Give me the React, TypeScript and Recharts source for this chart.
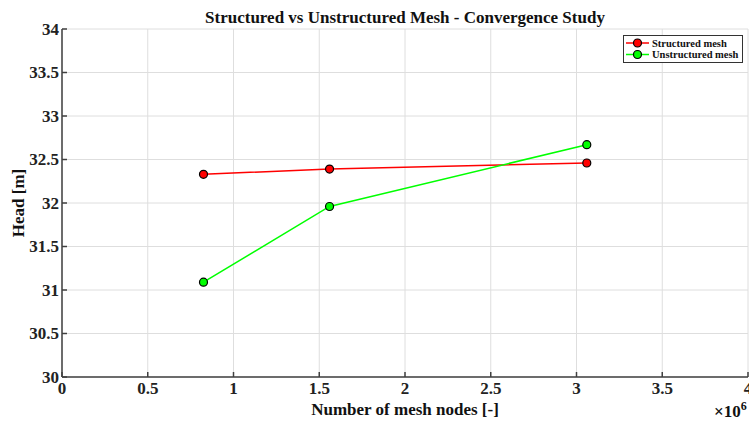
import React from 'react';
import { LineChart, Line, XAxis, YAxis, CartesianGrid } from 'recharts';

const W = 749;
const H = 421;
const FONT = '"Liberation Serif", "Times New Roman", serif';

// mesh node counts and head values
const meshNodes = [825000, 1560000, 3060000];
const structuredHead = [32.33, 32.39, 32.46];
const unstructuredHead = [31.09, 31.96, 32.67];

const xTicks = [0, 0.5e6, 1e6, 1.5e6, 2e6, 2.5e6, 3e6, 3.5e6, 4e6];
const yTicks = [30, 30.5, 31, 31.5, 32, 32.5, 33, 33.5, 34];

const SERIES = [
  { key: 'structured', name: 'Structured mesh', color: '#ff0000' },
  { key: 'unstructured', name: 'Unstructured mesh', color: '#00ff00' },
];

const data = meshNodes.map((n, i) => ({
  nodes: n,
  structured: structuredHead[i],
  unstructured: unstructuredHead[i],
}));

const AXIS = '#404040';
const TEXT = { fontFamily: FONT, fontWeight: 700, fontSize: 17 };

const XTick = (props: any) => (
  <text x={props.x} y={props.y} dy="0.72em" textAnchor="middle" fill="#222" style={TEXT}>
    {props.payload.value / 1e6}
  </text>
);

const YTick = (props: any) => (
  <text x={props.x} y={props.y} dy="0.34em" textAnchor="end" fill="#222" style={TEXT}>
    {props.payload.value}
  </text>
);

const MatlabLegend = () => (
  <g>
    <rect x={623.5} y={35.5} width={119} height={27} fill="#fff" stroke="#333" strokeWidth={1} />
    {SERIES.map((s, i) => {
      const cy = 43 + i * 11.5;
      return (
        <g key={s.key}>
          <line x1={626} x2={649} y1={cy} y2={cy} stroke={s.color} strokeWidth={1.5} />
          <circle cx={637.5} cy={cy} r={4} fill={s.color} stroke="#000" strokeWidth={1.2} />
          <text x={652} y={cy + 3.5} style={{ fontFamily: FONT, fontWeight: 700, fontSize: 10.5 }} fill="#111">{s.name}</text>
        </g>
      );
    })}
  </g>
);

export default function App() {
  return (
    <div style={{ position: 'absolute', left: 0, top: 0, width: W, height: H, background: '#fff', fontFamily: FONT }}>
      <LineChart width={W} height={H} data={data} margin={{ top: 29, right: 1, left: 0, bottom: 0 }}>
        <CartesianGrid stroke="#dedede" strokeWidth={1} />
        <XAxis
          dataKey="nodes"
          type="number"
          domain={[0, 4e6]}
          ticks={xTicks}
          height={44}
          stroke={AXIS}
          strokeWidth={1.5}
          tickSize={-5}
          tickMargin={10}
          tick={<XTick />}
          interval={0}
        />
        <XAxis
          xAxisId="top"
          dataKey="nodes"
          type="number"
          orientation="top"
          domain={[0, 4e6]}
          ticks={xTicks}
          height={0}
          stroke={AXIS}
          strokeWidth={1.5}
          tickSize={-5}
          tick={() => <g />}
          interval={0}
        />
        <YAxis
          type="number"
          domain={[30, 34]}
          ticks={yTicks}
          width={62}
          stroke={AXIS}
          strokeWidth={1.5}
          tickSize={-5}
          tickMargin={8}
          tick={<YTick />}
          interval={0}
        />
        <YAxis
          yAxisId="right"
          type="number"
          orientation="right"
          domain={[30, 34]}
          ticks={yTicks}
          width={0}
          stroke={AXIS}
          strokeWidth={1.5}
          tickSize={-5}
          tick={() => <g />}
          interval={0}
        />
        {SERIES.map((s) => (
          <Line
            key={s.key}
            dataKey={s.key}
            name={s.name}
            type="linear"
            stroke={s.color}
            strokeWidth={1.5}
            dot={{ r: 4, fill: s.color, stroke: '#000', strokeWidth: 1.2 }}
            isAnimationActive={false}
          />
        ))}
        <text x={405} y={23} textAnchor="middle" style={TEXT} fill="#111">
          Structured vs Unstructured Mesh - Convergence Study
        </text>
        <text x={405} y={415} textAnchor="middle" style={TEXT} fill="#111">
          Number of mesh nodes [-]
        </text>
        <text x={24} y={203} textAnchor="middle" style={TEXT} fill="#111" transform="rotate(-90 24 203)">
          Head [m]
        </text>
        <text x={714} y={417} style={TEXT} fill="#111">
          ×10<tspan dy={-7} style={{ fontSize: 12 }}>6</tspan>
        </text>
        <MatlabLegend />
      </LineChart>
    </div>
  );
}
